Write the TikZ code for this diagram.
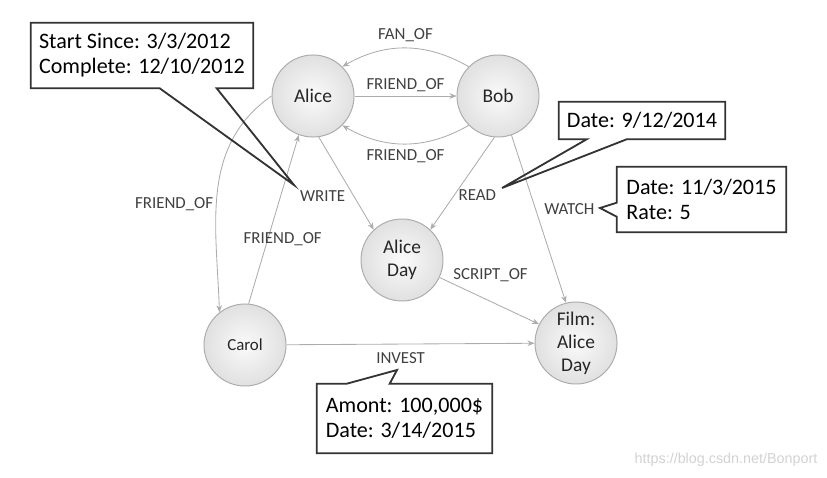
\documentclass[tikz,border=0pt]{standalone}
\usepackage{fontspec}
\setmainfont{Carlito}
\newfontfamily\wmfont{Liberation Sans}
\usetikzlibrary{arrows.meta,calc}

\begin{document}
\begin{tikzpicture}[x=0.025cm,y=0.025cm,
	entity/.style={circle, draw=gray!65, line width=0.7pt, shading=radial, inner color=gray!4, outer color=gray!24, minimum size=2.05cm, inner sep=0pt, align=center, text=black!85, font=\fontsize{13.8}{16.4}\selectfont},
	rel/.style={draw=gray!65, line width=0.6pt, -{Stealth[length=5pt,width=4pt]}},
	rlabel/.style={text=black!75, inner sep=1pt, font=\fontsize{12}{14}\selectfont},
	note/.style={inner sep=0pt, align=left, font=\fontsize{15.7}{17.8}\selectfont},
	callout/.style={draw=black!80, line width=1.3pt, line join=miter}]

	\useasboundingbox (0,0) rectangle (827,-478);

	%Nodes
	\node[entity]	(alice)		at (313,-96)	{Alice};
	\node[entity]	(bob)		at (498,-96)	{Bob};
	\node[entity]	(aliceday)	at (402,-260)	{Alice\\Day};
	\node[entity, font=\fontsize{12}{14}\selectfont]	(carol)	at (245,-345)	{Carol};
	\node[entity]	(film)		at (576,-343)	{Film:\\Alice\\Day};

	%Notes
	\node[note, minimum width=5.55cm, minimum height=1.625cm]	(n1)	at (142,-55.5)	{Start Since: 3/3/2012\\Complete: 12/10/2012};
	\node[note, minimum width=4.15cm, minimum height=0.925cm]	(n2)	at (642,-120.5)	{Date: 9/12/2014};
	\node[note, minimum width=4.225cm, minimum height=1.625cm]	(n3)	at (701.5,-199.5)	{Date: 11/3/2015\\Rate: 5};
	\node[note, minimum width=4.375cm, minimum height=1.725cm]	(n4)	at (404.5,-418.5)	{Amont: 100,000\$\\Date: 3/14/2015};
	\node[text=gray!35, font=\wmfont\fontsize{10.2}{12}\selectfont]	(wm)	at (726,-460)	{https://blog.csdn.net/Bonport};

	%Lines
	\draw[rel] (alice) -- node[rlabel, above=2pt] (lfriend1) {FRIEND\_OF} (bob);
	\draw[rel] (bob.135) to[bend right=30] node[rlabel, above=3pt] (lfan) {FAN\_OF} (alice.45);
	\draw[rel] (bob.225) to[bend left=30] node[rlabel, below=3pt] (lfriend2) {FRIEND\_OF} (alice.315);
	\draw[rel] (alice.west) to[out=215, in=92] node[rlabel, pos=0.56, left=1pt] (lfriend3) {FRIEND\_OF} (carol.128);
	\draw[rel] (carol.85) -- node[rlabel, pos=0.38, xshift=10.7pt] (lfriend4) {FRIEND\_OF} (alice.250);
	\draw[rel] (alice.278) -- node[rlabel, pos=0.64, left=5pt] (lwrite) {WRITE} (aliceday.133);
	\draw[rel] (bob.265) -- node[rlabel, pos=0.63, right=2pt] (lread) {READ} (aliceday.47);
	\draw[rel] (bob.289) -- node[rlabel, pos=0.44, right=5pt] (lwatch) {WATCH} (film.104);
	\draw[rel] (aliceday.335) -- node[rlabel, pos=0.12, above right=0pt] (lscript) {SCRIPT\_OF} (film.153);
	\draw[rel] (carol) -- node[rlabel, pos=0.46, below=5pt] (linvest) {INVEST} (film);

	%Callouts
	\coordinate (t1) at (294,-185);
	\coordinate (t2) at (502,-188);
	\coordinate (t3) at (600,-208);
	\coordinate (t4) at (397,-370);
	\draw[callout] (n1.south west) -- ($(n1.south west)+(129,0)$) -- (t1) -- ($(n1.south west)+(186,0)$) -- (n1.south east) -- (n1.north east) -- (n1.north west) -- cycle;
	\draw[callout] (n2.south west) -- ($(n2.south west)+(28,0)$) -- (t2) -- ($(n2.south west)+(68,0)$) -- (n2.south east) -- (n2.north east) -- (n2.north west) -- cycle;
	\draw[callout] (n3.north west) -- ($(n3.north west)+(0,-36)$) -- (t3) -- ($(n3.north west)+(0,-50)$) -- (n3.south west) -- (n3.south east) -- (n3.north east) -- cycle;
	\draw[callout] (n4.north west) -- ($(n4.north west)+(30,0)$) -- (t4) -- ($(n4.north west)+(73,0)$) -- (n4.north east) -- (n4.south east) -- (n4.south west) -- cycle;
\end{tikzpicture}
\end{document}
